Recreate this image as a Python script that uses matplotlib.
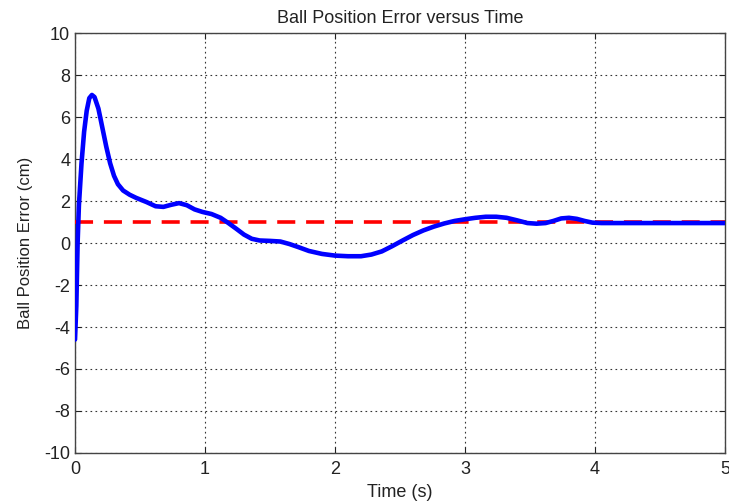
import matplotlib
matplotlib.use("Agg")
import matplotlib.pyplot as plt

# Ball position error samples (time in s, error in cm)
time_s = [0.0, 0.01, 0.02, 0.03, 0.05, 0.07, 0.09, 0.11, 0.13, 0.15, 0.18, 0.21,
          0.24, 0.27, 0.30, 0.33, 0.37, 0.42, 0.47, 0.55, 0.62, 0.68, 0.74, 0.80,
          0.86, 0.92, 0.98, 1.05, 1.12, 1.18, 1.24, 1.30, 1.36, 1.42, 1.50, 1.58,
          1.65, 1.72, 1.80, 1.90, 2.00, 2.10, 2.20, 2.28, 2.36, 2.44, 2.52, 2.60,
          2.68, 2.76, 2.84, 2.92, 3.00, 3.08, 3.16, 3.24, 3.32, 3.40, 3.48, 3.55,
          3.62, 3.68, 3.74, 3.80, 3.86, 3.92, 3.98, 4.05, 4.20, 4.50, 5.00]
error_cm = [-4.6, -3.0, 0.0, 1.8, 3.8, 5.3, 6.3, 6.9, 7.05, 6.95, 6.4, 5.5,
            4.6, 3.8, 3.2, 2.8, 2.5, 2.3, 2.15, 1.95, 1.75, 1.72, 1.82, 1.9,
            1.8, 1.6, 1.48, 1.38, 1.2, 0.95, 0.68, 0.4, 0.2, 0.12, 0.1, 0.07,
            -0.05, -0.2, -0.38, -0.52, -0.6, -0.63, -0.63, -0.55, -0.4, -0.15, 0.12, 0.38,
            0.6, 0.78, 0.93, 1.05, 1.13, 1.2, 1.25, 1.25, 1.2, 1.08, 0.95, 0.92,
            0.95, 1.05, 1.17, 1.2, 1.15, 1.05, 0.97, 0.95, 0.95, 0.95, 0.95]
reference_cm = 1.0

x_ticks = [0, 1, 2, 3, 4, 5]
y_ticks = [-10, -8, -6, -4, -2, 0, 2, 4, 6, 8, 10]

plt.rcParams['font.family'] = ['Liberation Sans', 'DejaVu Sans']
plt.rcParams['axes.unicode_minus'] = False

fig = plt.figure(figsize=(7.29, 5.04), dpi=100)
ax = fig.add_axes([0.1029, 0.1012, 0.8916, 0.8333])

ax.axhline(reference_cm, color='#ff0000', lw=2.6, ls=(0, (5, 3)), zorder=3)
ax.plot(time_s, error_cm, color='#0000ff', lw=3.3, solid_joinstyle='round',
        solid_capstyle='round', zorder=4)

ax.set_xlim(0, 5)
ax.set_ylim(-10, 10)
ax.set_xticks(x_ticks)
ax.set_yticks(y_ticks)
ax.tick_params(direction='in', top=True, right=True, labelsize=13,
               length=4, width=0.8, colors='#222222')
ax.tick_params(axis='x', pad=6)
ax.grid(True, color='#333333', ls=(0, (1.5, 3)), lw=0.8)
for s in ax.spines.values():
    s.set_color('#444444')
    s.set_linewidth(1.0)

ax.set_title('Ball Position Error versus Time', fontsize=13, color='#222222', pad=7)
ax.set_xlabel('Time (s)', fontsize=13, color='#222222', labelpad=4)
ax.set_ylabel('Ball Position Error (cm)', fontsize=12, color='#222222', labelpad=8)

fig.savefig('out.png', dpi=100)
